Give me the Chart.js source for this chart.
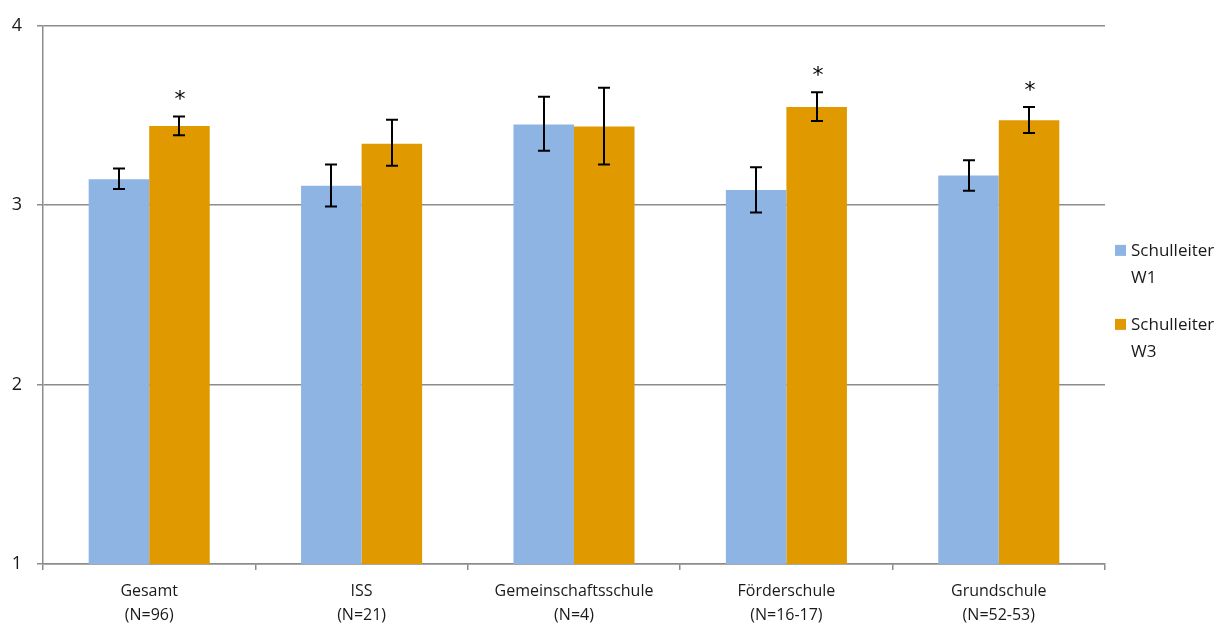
<!DOCTYPE html>
<html>
  <head>
    <meta charset="utf-8">
    <script src="https://cdn.jsdelivr.net/npm/chart.js@4"></script>
    <style>
      html, body { margin: 0; padding: 0; background: #fff; }
      #wrap { width: 1221px; height: 625px; }
    </style>
  </head>

  <body>
    <div id="wrap">
      <canvas id="canvas"></canvas>
    </div>
    <script>
      const categories = [
        ['Gesamt', '(N=96)'],
        ['ISS', '(N=21)'],
        ['Gemeinschaftsschule', '(N=4)'],
        ['Förderschule', '(N=16-17)'],
        ['Grundschule', '(N=52-53)'],
      ];
      const seriesNames = [['Schulleiter', 'W1'], ['Schulleiter', 'W3']];

      const w1Means = [3.144, 3.109, 3.45, 3.085, 3.165];
      const w1Low = [3.09, 2.993, 3.303, 2.96, 3.081];
      const w1High = [3.205, 3.227, 3.604, 3.211, 3.251];

      const w3Means = [3.441, 3.343, 3.439, 3.548, 3.473];
      const w3Low = [3.39, 3.22, 3.227, 3.469, 3.403];
      const w3High = [3.495, 3.476, 3.654, 3.63, 3.548];
      const w3Significant = [true, false, false, true, true];

      const yTicks = [1, 2, 3, 4];

      const FONT = '"Open Sans"';
      const GRID = '#8c8c8c';

      const errorBars = {
        id: 'errorBars',
        afterDatasetsDraw(chart) {
          const ctx = chart.ctx;
          const y = chart.scales.y;
          const ranges = [[w1Low, w1High], [w3Low, w3High]];
          ctx.save();
          ctx.strokeStyle = '#000';
          ctx.lineWidth = 2;
          chart.data.datasets.forEach((ds, di) => {
            const meta = chart.getDatasetMeta(di);
            meta.data.forEach((bar, i) => {
              const x = Math.round(bar.x);
              const lo = y.getPixelForValue(ranges[di][0][i]);
              const hi = y.getPixelForValue(ranges[di][1][i]);
              ctx.beginPath();
              ctx.moveTo(x, lo);
              ctx.lineTo(x, hi);
              ctx.moveTo(x - 6, lo);
              ctx.lineTo(x + 6, lo);
              ctx.moveTo(x - 6, hi);
              ctx.lineTo(x + 6, hi);
              ctx.stroke();
              if (di === 1 && w3Significant[i]) {
                ctx.fillStyle = '#000';
                ctx.font = '22px "DejaVu Sans"';
                ctx.textAlign = 'center';
                ctx.textBaseline = 'alphabetic';
                ctx.fillText('*', x + 1, hi - 10);
              }
            });
          });
          ctx.restore();
        },
      };

      const sideLegend = {
        id: 'sideLegend',
        afterDraw(chart) {
          const ctx = chart.ctx;
          const area = chart.chartArea;
          const x0 = area.right + 10;
          const mid = (area.top + area.bottom) / 2;
          ctx.save();
          ctx.font = '17px ' + FONT;
          ctx.textBaseline = 'middle';
          ctx.textAlign = 'left';
          chart.data.datasets.forEach((ds, di) => {
            const top = mid - 50 + di * 74;
            ctx.fillStyle = ds.backgroundColor;
            ctx.fillRect(x0, top, 11, 11);
            ctx.fillStyle = '#1a1a1a';
            seriesNames[di].forEach((line, li) => {
              ctx.fillText(line, x0 + 16, top + 6 + li * 27);
            });
          });
          ctx.restore();
        },
      };

      new Chart(document.getElementById('canvas').getContext('2d'), {
        type: 'bar',
        data: {
          labels: categories,
          datasets: [
            {
              label: seriesNames[0].join(' '),
              data: w1Means,
              backgroundColor: '#8eb4e3',
              categoryPercentage: 0.57,
              barPercentage: 1,
            },
            {
              label: seriesNames[1].join(' '),
              data: w3Means,
              backgroundColor: '#e09a00',
              categoryPercentage: 0.57,
              barPercentage: 1,
            },
          ],
        },
        options: {
          responsive: true,
          maintainAspectRatio: false,
          animation: false,
          layout: { padding: { top: 22, right: 116, left: 0, bottom: 0 } },
          plugins: {
            legend: { display: false },
            tooltip: { enabled: false },
          },
          scales: {
            x: {
              grid: {
                offset: true,
                drawOnChartArea: false,
                drawTicks: true,
                tickLength: 6,
                color: GRID,
                lineWidth: 1.5,
              },
              border: { display: true, color: GRID, width: 1.5 },
              ticks: {
                color: '#1a1a1a',
                font: { family: FONT, size: 16, lineHeight: '24px' },
                padding: 9,
                maxRotation: 0,
                autoSkip: false,
              },
              afterFit(scale) { scale.height = 61; },
            },
            y: {
              min: yTicks[0],
              max: yTicks[yTicks.length - 1],
              afterBuildTicks(scale) {
                scale.ticks = yTicks.map((v) => ({ value: v }));
              },
              grid: {
                color: GRID,
                lineWidth: 1.5,
                tickLength: 6,
              },
              border: { display: true, color: GRID, width: 1.5 },
              ticks: {
                color: '#1a1a1a',
                font: { family: FONT, size: 18 },
                padding: 15,
              },
              afterFit(scale) { scale.width = 43; },
            },
          },
        },
        plugins: [errorBars, sideLegend],
      });
    </script>
  </body>
</html>
